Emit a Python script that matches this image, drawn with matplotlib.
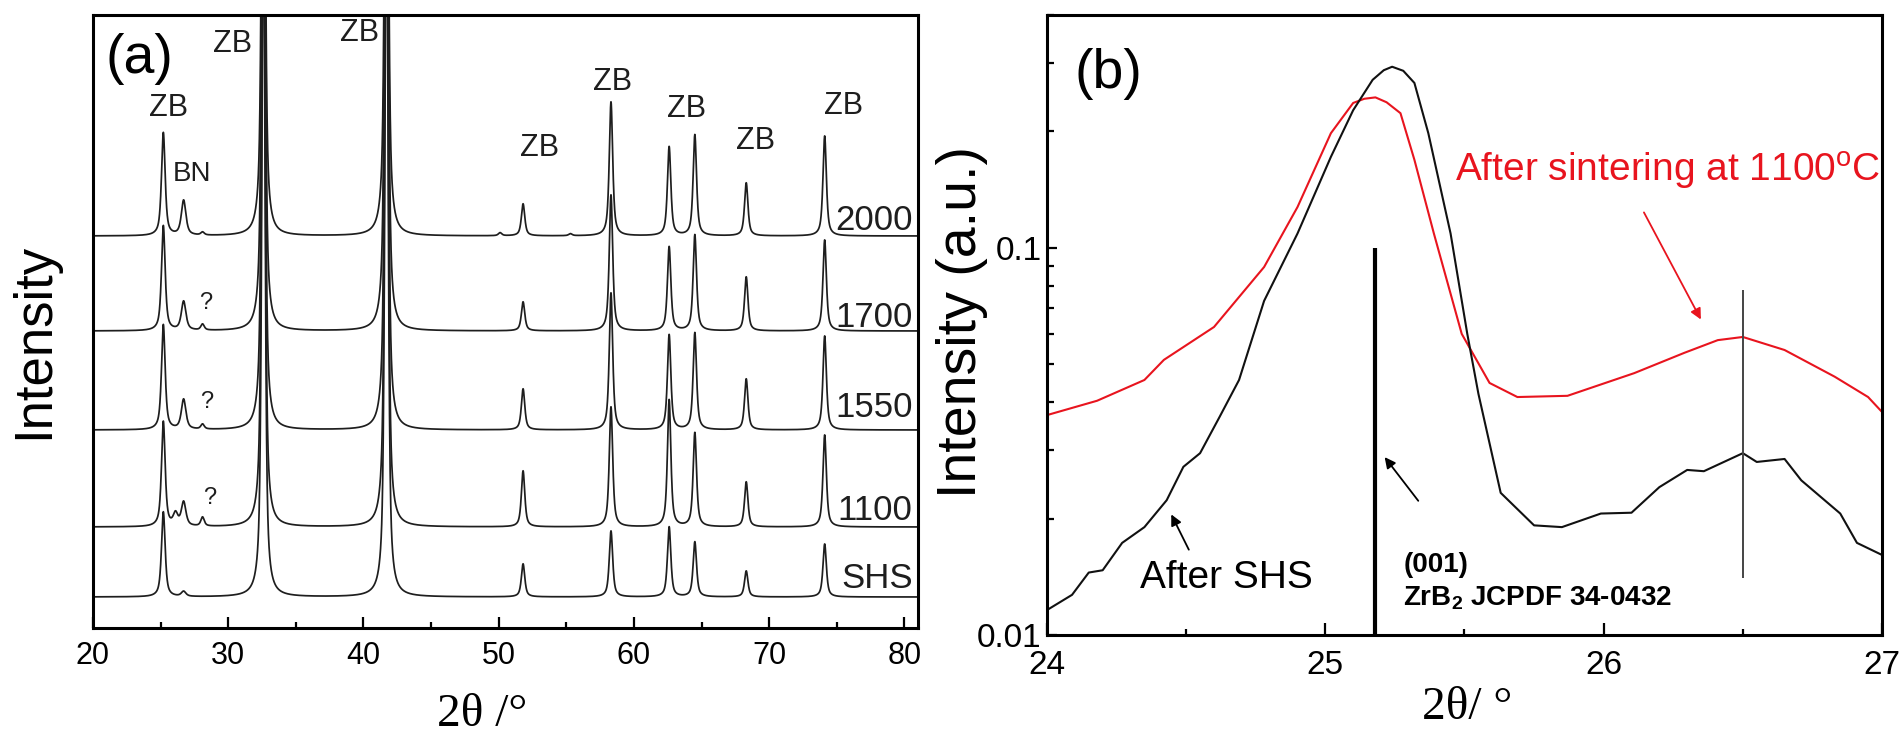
import numpy as np
import matplotlib
matplotlib.use("Agg")
import matplotlib.pyplot as plt
from matplotlib.ticker import FixedLocator, FixedFormatter, NullFormatter

plt.rcParams['font.family'] = ['Liberation Sans', 'DejaVu Sans']
plt.rcParams['mathtext.fontset'] = 'custom'
plt.rcParams['mathtext.rm'] = 'Liberation Sans'
plt.rcParams['mathtext.bf'] = 'Liberation Sans:bold'

# ---------------- Panel (a) data: XRD peak table ----------------
peak_pos = [25.2, 26.1, 26.7, 28.1, 32.6, 41.7, 50.1, 51.8, 55.3, 58.3, 62.6, 64.5, 68.3, 74.1]
peak_fwhm = [0.32, 0.40, 0.40, 0.30, 0.28, 0.28, 0.30, 0.30, 0.30, 0.30, 0.30, 0.30, 0.30, 0.30]
series_names = ['2000', '1700', '1550', '1100', 'SHS']
series_offset = [392, 297, 198, 101, 31]
h_2000 = [103, 0, 35, 3, 700, 740, 3, 32, 2, 134, 89, 101, 53, 100]
h_1700 = [105, 0, 29, 6, 720, 760, 0, 29, 0, 136, 84, 96, 54, 91]
h_1550 = [105, 0, 30, 5, 720, 760, 0, 41, 0, 137, 95, 97, 51, 94]
h_1100 = [105, 12, 24, 9, 740, 780, 0, 56, 0, 120, 127, 94, 45, 92]
h_SHS = [85, 0, 5, 0, 700, 740, 0, 33, 0, 66, 70, 55, 26, 53]
series_heights = [h_2000, h_1700, h_1550, h_1100, h_SHS]
series_label_y = [398, 301, 211, 108, 40]

zb_label_x = [25.6, 30.35, 39.7, 53.0, 58.4, 63.9, 69.0, 75.5]
zb_label_y = [520, 584, 595, 480, 546, 519, 487, 522]
q_label_x = [28.3, 28.4, 28.6]
q_label_y = [325, 226, 130]

# ---------------- Panel (b) data ----------------
shs_x = [24.00, 24.09, 24.15, 24.20, 24.27, 24.35, 24.43, 24.49, 24.55, 24.62, 24.69,
         24.78, 24.90, 25.02, 25.10, 25.17, 25.21, 25.24, 25.28, 25.32, 25.37, 25.45, 25.51,
         25.55, 25.63, 25.75, 25.85, 25.99, 26.10, 26.20, 26.30, 26.36, 26.50, 26.55, 26.65,
         26.71, 26.85, 26.91, 27.00]
shs_y = [0.0116, 0.0127, 0.0145, 0.0147, 0.0173, 0.0190, 0.0223, 0.0272, 0.0295, 0.0366, 0.0456,
         0.073, 0.109, 0.172, 0.227, 0.272, 0.288, 0.294, 0.287, 0.267, 0.198, 0.109, 0.060,
         0.042, 0.0233, 0.0192, 0.0190, 0.0206, 0.0207, 0.0241, 0.0267, 0.0265, 0.0295, 0.0280,
         0.0285, 0.0251, 0.0206, 0.0173, 0.0161]
sint_x = [24.00, 24.18, 24.35, 24.42, 24.60, 24.78, 24.90, 25.02, 25.10, 25.14, 25.18, 25.22,
          25.27, 25.32, 25.39, 25.49, 25.59, 25.69, 25.87, 26.11, 26.29, 26.41, 26.50, 26.65,
          26.83, 26.95, 27.00]
sint_y = [0.0370, 0.0403, 0.0456, 0.0514, 0.0625, 0.0893, 0.1276, 0.198, 0.237, 0.243, 0.245,
          0.238, 0.223, 0.169, 0.109, 0.060, 0.0448, 0.0412, 0.0415, 0.0475, 0.0536, 0.0578,
          0.0589, 0.0545, 0.0465, 0.0412, 0.0377]
ref_pos = [25.18, 26.5]
ref_low = [0.01, 0.014]
ref_high = [0.1, 0.078]

RED = '#e8141e'

fig = plt.figure(figsize=(19.04, 7.38), dpi=100)
W, H = 1904.0, 738.0
axA = fig.add_axes([93 / W, 1 - 628 / H, (918 - 93) / W, (628 - 15) / H])
axB = fig.add_axes([1047 / W, 1 - 635 / H, (1882 - 1047) / W, (635 - 15) / H])


def pv(x, x0, h, w, eta=0.7):
    hw = w / 2.0
    d = (x - x0) / hw
    return h * (eta / (1 + d ** 2) + (1 - eta) * np.exp(-np.log(2) * d ** 2))


x = np.linspace(20, 81, 8000)
for name, off, hs in zip(series_names, series_offset, series_heights):
    y = np.full_like(x, float(off))
    for p, w, h in zip(peak_pos, peak_fwhm, hs):
        if h > 0:
            y += pv(x, p, h, w)
    axA.plot(x, y, color='#1e1e1e', lw=1.25)

axA.set_xlim(20, 81)
axA.set_ylim(0, 613)
axA.xaxis.set_major_locator(FixedLocator([20, 30, 40, 50, 60, 70, 80]))
axA.xaxis.set_minor_locator(FixedLocator([25, 35, 45, 55, 65, 75]))
axA.set_yticks([])
axA.tick_params(axis='x', which='both', direction='in', top=False, width=1.6,
                labelsize=22, pad=9.5)
axA.tick_params(axis='x', which='major', length=8)
axA.tick_params(axis='x', which='minor', length=4)
for s in axA.spines.values():
    s.set_linewidth(2.2)

for name, ly in zip(series_names, series_label_y):
    axA.text(80.6, ly, name, ha='right', va='baseline', fontsize=25, color='#1e1e1e')
for zx, zy in zip(zb_label_x, zb_label_y):
    axA.text(zx, zy, 'ZB', ha='center', va='center', fontsize=22, color='#1e1e1e')
axA.text(27.3, 454, 'BN', ha='center', va='center', fontsize=20, color='#1e1e1e')
for qx, qy in zip(q_label_x, q_label_y):
    axA.text(qx, qy, '?', ha='center', va='center', fontsize=17, color='#1e1e1e')
axA.text(0.056, 0.928, '(a)', transform=axA.transAxes, ha='center', va='center', fontsize=40)
axA.set_xlabel('2θ /°', family='Liberation Serif', fontsize=34)
axA.xaxis.set_label_coords((482 - 93) / 825.0, (628 - 715) / 613.0)
axA.xaxis.label.set_va('center')
fig.text(34 / W, 1 - 341 / H, 'Intensity', rotation=90, ha='center', va='center', fontsize=38)

# ---------------- Panel (b) ----------------
axB.plot(sint_x, sint_y, color=RED, lw=1.5)
axB.plot(shs_x, shs_y, color='#111111', lw=1.5)
axB.vlines(ref_pos[0], ref_low[0], ref_high[0], color='black', lw=3)
axB.vlines(ref_pos[1], ref_low[1], ref_high[1], color='#444444', lw=1.4)
axB.set_yscale('log')
axB.set_xlim(24, 27)
axB.set_ylim(0.01, 0.4)
axB.xaxis.set_major_locator(FixedLocator([24, 25, 26, 27]))
axB.xaxis.set_minor_locator(FixedLocator([24.5, 25.5, 26.5]))
axB.yaxis.set_major_locator(FixedLocator([0.01, 0.1]))
axB.yaxis.set_major_formatter(FixedFormatter(['0.01', '0.1']))
axB.yaxis.set_minor_locator(FixedLocator([0.02, 0.03, 0.04, 0.05, 0.06, 0.07, 0.08, 0.09,
                                          0.2, 0.3, 0.4]))
axB.yaxis.set_minor_formatter(NullFormatter())
axB.tick_params(axis='both', which='both', direction='in', top=False, right=False, width=1.6,
                labelsize=24)
axB.tick_params(axis='x', which='major', length=9, pad=11)
axB.tick_params(axis='x', which='minor', length=4.5)
axB.tick_params(axis='y', which='major', length=7, pad=4)
axB.tick_params(axis='y', which='minor', length=5)
for s in axB.spines.values():
    s.set_linewidth(2.2)

axB.text(0.073, 0.905, '(b)', transform=axB.transAxes, ha='center', va='center', fontsize=40)
axB.text(25.466, 0.148, r'After sintering at 1100$^\mathrm{o}$C', color=RED, fontsize=28,
         ha='left', va='baseline')
axB.annotate('', xy=(26.354, 0.0644), xytext=(26.14, 0.1254),
             arrowprops=dict(arrowstyle='-|>', color=RED, lw=1.3, mutation_scale=16))
axB.text(24.334, 0.0132, 'After SHS', fontsize=28, ha='left', va='baseline')
axB.annotate('', xy=(24.442, 0.0208), xytext=(24.514, 0.01637),
             arrowprops=dict(arrowstyle='-|>', color='black', lw=1.3, mutation_scale=16))
axB.annotate('', xy=(25.207, 0.0292), xytext=(25.34, 0.02193),
             arrowprops=dict(arrowstyle='-|>', color='black', lw=1.3, mutation_scale=16))
axB.text(25.28, 0.01456, '(001)', fontsize=20, fontweight='bold', ha='left', va='baseline')
axB.text(25.28, 0.01196, r'ZrB$_\mathbf{2}$ JCPDF 34-0432', fontsize=20, fontweight='bold',
         ha='left', va='baseline')
axB.set_xlabel('2θ/ °', family='Liberation Serif', fontsize=34)
axB.xaxis.set_label_coords(0.503, (635 - 708) / 620.0)
axB.xaxis.label.set_va('center')
fig.text(962 / W, 1 - 322 / H, 'Intensity (a.u.)', rotation=90, ha='center', va='center',
         fontsize=40)

fig.savefig('out.png', dpi=100, facecolor='white')
